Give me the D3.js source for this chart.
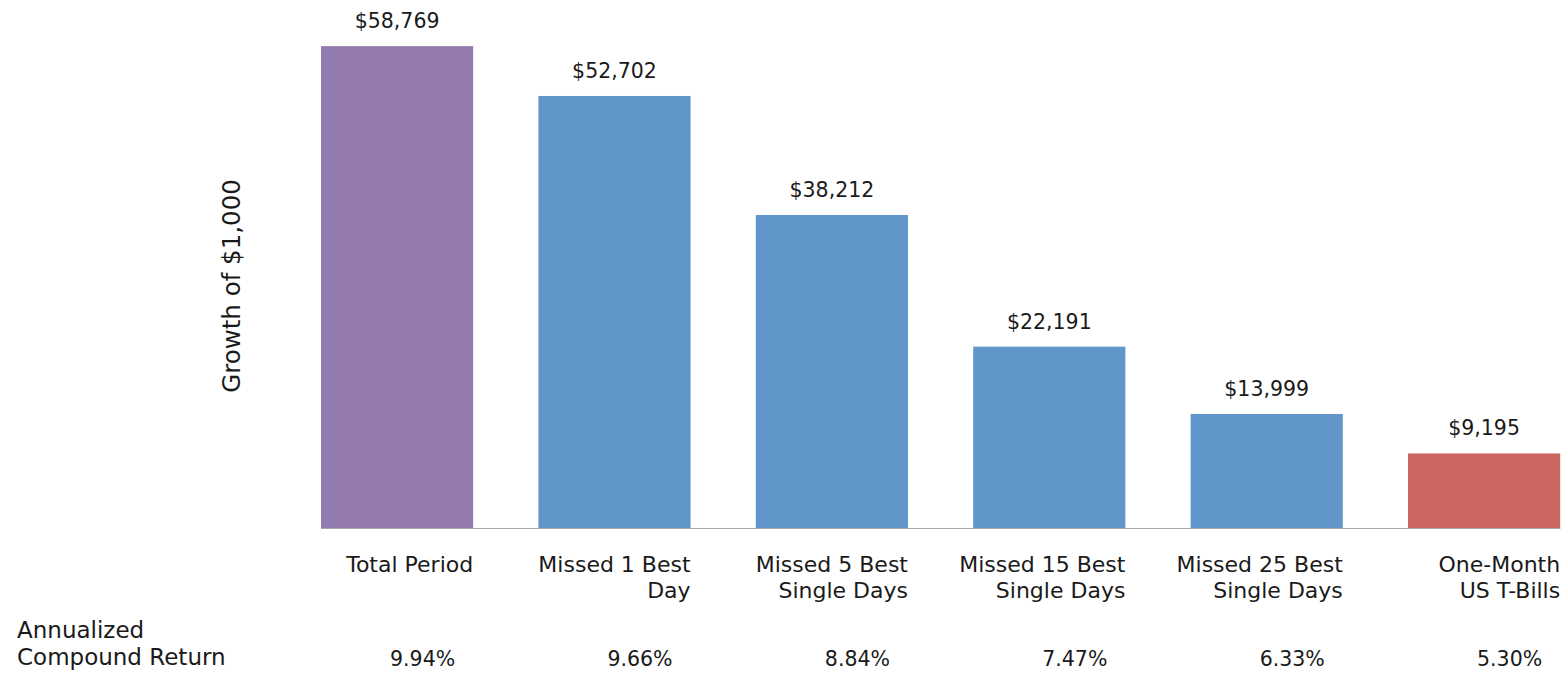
<!DOCTYPE html>
<meta charset="utf-8">
<style>
body { margin: 0; background: #fff; }
text { font-family: "DejaVu Sans", "Century Gothic", sans-serif; fill: #1a1a1a; }
</style>
<svg width="1568" height="673"></svg>
<script src="https://cdn.jsdelivr.net/npm/d3@7"></script>
<script>

var categories = [
  ["Total Period"],
  ["Missed 1 Best", "Day"],
  ["Missed 5 Best", "Single Days"],
  ["Missed 15 Best", "Single Days"],
  ["Missed 25 Best", "Single Days"],
  ["One-Month", "US T-Bills"]
];
var growth = [58769, 52702, 38212, 22191, 13999, 9195];
var annualReturn = [9.94, 9.66, 8.84, 7.47, 6.33, 5.30];
var barColors = ["#937bb0", "#6096c9", "#6096c9", "#6096c9", "#6096c9", "#cb6660"];

var svg = d3.select("svg");

var x = d3.scaleBand()
    .domain(d3.range(categories.length))
    .range([288.4, 1592.8])
    .paddingInner(0.3)
    .paddingOuter(0.15);

var y = d3.scaleLinear()
    .domain([0, 60000])
    .range([529, 36]);

var fmt = d3.format("$,");

// bars
svg.append("g").selectAll("rect")
    .data(growth)
  .enter().append("rect")
    .attr("x", function(d, i) { return x(i); })
    .attr("y", function(d) { return y(d); })
    .attr("width", x.bandwidth())
    .attr("height", function(d) { return y(0) - y(d); })
    .attr("fill", function(d, i) { return barColors[i]; });

// baseline
svg.append("line")
    .attr("x1", x(0))
    .attr("x2", x(categories.length - 1) + x.bandwidth())
    .attr("y1", y(0) - 0.5)
    .attr("y2", y(0) - 0.5)
    .attr("stroke", "#a6a6a6")
    .attr("stroke-width", 1.2);

// value labels
svg.append("g").selectAll("text")
    .data(growth)
  .enter().append("text")
    .attr("x", function(d, i) { return x(i) + x.bandwidth() / 2; })
    .attr("y", function(d) { return y(d) - 18; })
    .attr("text-anchor", "middle")
    .style("font-size", "20.5px")
    .text(function(d) { return fmt(d); });

// category labels, right aligned to bar edge
var cat = svg.append("g").selectAll("text")
    .data(categories)
  .enter().append("text")
    .attr("text-anchor", "end")
    .style("font-size", "22px");

cat.selectAll("tspan")
    .data(function(d, i) { return d.map(function(s) { return { s: s, i: i }; }); })
  .enter().append("tspan")
    .attr("x", function(d) { return x(d.i) + x.bandwidth(); })
    .attr("y", function(d, j) { return 572 + j * 26; })
    .text(function(d) { return d.s; });

// annualized returns
svg.append("g").selectAll("text")
    .data(annualReturn)
  .enter().append("text")
    .attr("x", function(d, i) { return x(i) + x.bandwidth() - 18; })
    .attr("y", 666)
    .attr("text-anchor", "end")
    .style("font-size", "20.5px")
    .text(function(d) { return d.toFixed(2) + "%"; });

svg.append("text")
    .attr("x", 17)
    .attr("y", 638)
    .style("font-size", "23px")
    .text("Annualized");

svg.append("text")
    .attr("x", 17)
    .attr("y", 665)
    .style("font-size", "23px")
    .text("Compound Return");

svg.append("text")
    .attr("transform", "translate(240,286) rotate(-90)")
    .attr("text-anchor", "middle")
    .style("font-size", "24.5px")
    .text("Growth of $1,000");

</script>
